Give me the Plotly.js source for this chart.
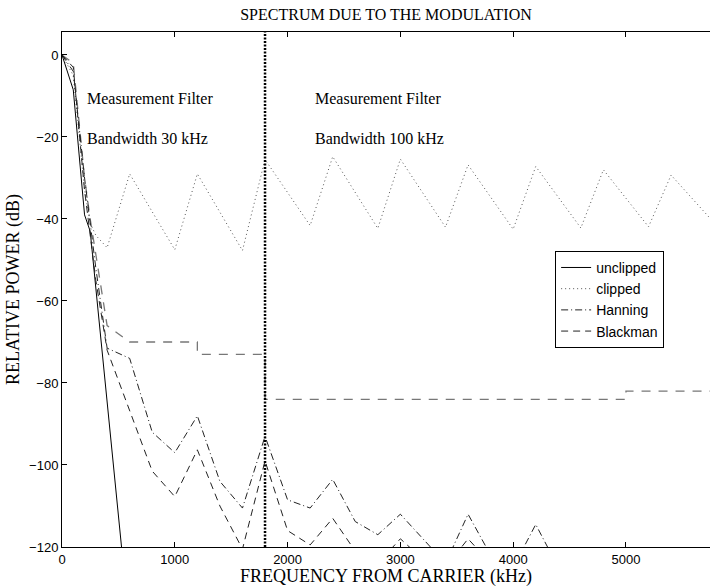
<!DOCTYPE html>
<html>
<head>
<meta charset="utf-8">
<script src="https://cdn.plot.ly/plotly-3.0.1.min.js"></script>
<style>html,body{margin:0;padding:0;background:#fff;}#chart{width:710px;height:587px;}</style>
</head>
<body>
<div id="chart"></div>
<script>
// ---- data (kHz from carrier, relative power dB) ----
const freqUnclipped = [0, 100, 200, 250, 600];
const powUnclipped  = [0, -8.5, -39, -43, -140];

const freqClipped = [0, 100, 200, 250, 300, 400, 600, 1000, 1200, 1600, 1800, 2200, 2400, 2800, 3000, 3400, 3600, 4000, 4200, 4600, 4800, 5200, 5400, 5800];
const powClipped  = [0, -5, -33, -41, -44, -47, -29, -47.5, -29, -47.7, -25.5, -41.6, -24.8, -42.3, -25.4, -42, -26.8, -42.5, -27.2, -42.2, -28, -41.9, -29.3, -41.5];

const freqHanning = [0, 100, 200, 300, 400, 600, 800, 1000, 1200, 1400, 1600, 1800, 2000, 2200, 2400, 2600, 2800, 3000, 3200, 3400, 3600, 3800, 4000, 4200, 4400];
const powHanning  = [0, -4, -30, -52, -71.5, -74, -92, -97, -88, -104, -110.5, -93, -108.5, -110.5, -103.5, -113.8, -117, -112, -118, -124, -112, -122, -125, -114.5, -125];

const freqBlackman = [0, 100, 200, 300, 400, 600, 800, 1000, 1200, 1400, 1600, 1800, 2000, 2200, 2400, 2600, 2800, 3000, 3200, 3400, 3600, 3800, 4000];
const powBlackman  = [0, -3, -33, -55, -72, -87, -101.5, -107.7, -96.3, -110, -120.5, -99, -116, -119.5, -113, -121, -124, -118, -123, -125, -118, -124, -126];

const freqMask = [0, 100, 200, 250, 400, 600, 1200, 1200, 1800, 1800, 5000, 5000, 5800];
const powMask  = [0, -2, -30, -40, -66, -70, -70, -73, -73, -84, -84, -82, -82];

const filterChangeFreq = 1800;

const seriesNames = ['unclipped', 'clipped', 'Hanning', 'Blackman'];
const xTicks = [0, 1000, 2000, 3000, 4000, 5000];
const yTicks = [0, -20, -40, -60, -80, -100, -120];
const xRange = [0, 5745];
const yRange = [-120, 5.6];

const filterLabels = [
  {x: 203, y: -10.5, text: 'Measurement Filter'},
  {x: 203, y: -20.3, text: 'Bandwidth 30 kHz'},
  {x: 2228, y: -10.5, text: 'Measurement Filter'},
  {x: 2228, y: -20.3, text: 'Bandwidth 100 kHz'}
];

const serif = 'Liberation Serif, Times New Roman, serif';
const sans = 'Liberation Sans, Arial, Helvetica, sans-serif';

const traces = [
  {x: freqMask, y: powMask, mode: 'lines', showlegend: false, hoverinfo: 'skip',
   line: {color: '#777', width: 1.3, dash: '9px,8px'}},
  {x: freqUnclipped, y: powUnclipped, name: seriesNames[0], mode: 'lines',
   line: {color: '#000', width: 1}},
  {x: freqClipped, y: powClipped, name: seriesNames[1], mode: 'lines',
   line: {color: '#555', width: 1, dash: '1px,3px'}},
  {x: freqHanning, y: powHanning, name: seriesNames[2], mode: 'lines',
   line: {color: '#222', width: 1, dash: '7px,3px,1px,3px'}},
  {x: freqBlackman, y: powBlackman, name: seriesNames[3], mode: 'lines',
   line: {color: '#222', width: 1, dash: '7px,5px'}}
];

const layout = {
  width: 710, height: 587,
  margin: {l: 62, r: 0, t: 32, b: 40},
  paper_bgcolor: '#fff', plot_bgcolor: '#fff',
  title: {text: 'SPECTRUM DUE TO THE MODULATION', font: {family: serif, size: 16, color: '#000'},
          xref: 'paper', x: 0.5, xanchor: 'center', y: 0.976, yanchor: 'middle'},
  xaxis: {
    range: xRange, tickvals: xTicks, ticktext: xTicks.map(String),
    showgrid: false, zeroline: false, showline: true, linecolor: '#000', linewidth: 1,
    mirror: 'allticks', ticks: 'inside', ticklen: 5, tickcolor: '#000',
    tickfont: {family: sans, size: 13, color: '#000'},
    title: {text: 'FREQUENCY FROM CARRIER (kHz)', font: {family: serif, size: 18, color: '#000'}, standoff: 1}
  },
  yaxis: {
    range: yRange, tickvals: yTicks,
    showgrid: false, zeroline: false, showline: true, linecolor: '#000', linewidth: 1,
    mirror: false, ticks: 'inside', ticklen: 5, tickcolor: '#000',
    tickfont: {family: sans, size: 13, color: '#000'},
    title: {text: 'RELATIVE POWER (dB)', font: {family: serif, size: 18, color: '#000'}, standoff: 4}
  },
  legend: {
    x: 0.761, y: 0.575, xanchor: 'left', yanchor: 'top',
    bgcolor: '#fff', bordercolor: '#000', borderwidth: 1,
    font: {family: sans, size: 14, color: '#000'},
    tracegroupgap: 0, itemwidth: 30
  },
  shapes: [{
    type: 'line', xref: 'x', yref: 'paper', x0: filterChangeFreq, x1: filterChangeFreq, y0: 0, y1: 1,
    line: {color: '#000', width: 2.5, dash: '2px,1.5px'}
  }],
  annotations: filterLabels.map(a => ({
    x: a.x, y: a.y, xref: 'x', yref: 'y', text: a.text, showarrow: false,
    xanchor: 'left', yanchor: 'middle', font: {family: serif, size: 16, color: '#000'}
  }))
};

Plotly.newPlot('chart', traces, layout, {displayModeBar: false, staticPlot: true});
</script>
</body>
</html>
